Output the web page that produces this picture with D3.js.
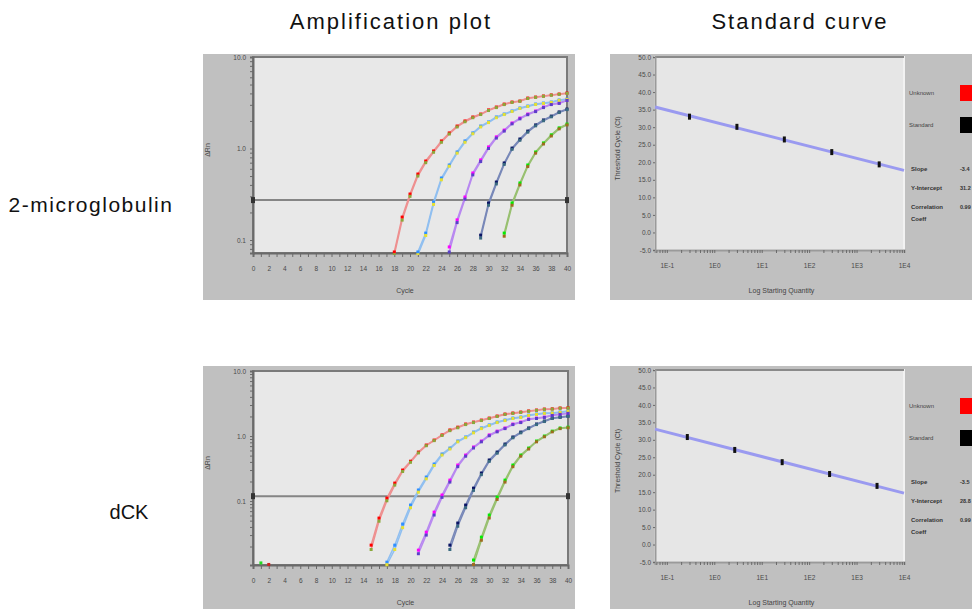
<!DOCTYPE html>
<html>
<head>
<meta charset="utf-8">
<script src="https://cdn.jsdelivr.net/npm/d3@7"></script>
<style>
body { margin: 0; background: #fff; }
svg { display: block; font-family: "Liberation Sans", Arial, sans-serif; }
</style>
</head>
<body>
<svg id="chart" width="972" height="609"></svg>
<script>
// ---- data ----
const rowLabels = ['2-microglobulin', 'dCK'];
const columnTitles = ['Amplification plot', 'Standard curve'];

// amplification plots: first cycle of each dilution, then ΔRn per cycle
const ampXTicks = [0, 2, 4, 6, 8, 10, 12, 14, 16, 18, 20, 22, 24, 26, 28, 30, 32, 34, 36, 38, 40];
const ampXTickLabels = ampXTicks.map(String);

const ampTopYTicks = [10, 1, 0.1];
const ampTopYTickLabels = ['10.0', '1.0', '0.1'];
const ampTopThreshold = 0.273;
const ampTopStart = [18, 21, 25, 29, 32];
const ampTopRepA = [
    [0.074, 0.178, 0.318, 0.526, 0.73, 0.94, 1.21, 1.48, 1.76, 2.0, 2.21, 2.38, 2.64, 2.84, 3.06, 3.22, 3.30, 3.56, 3.65, 3.75, 3.85, 3.94, 4.04],
    [0.074, 0.119, 0.26, 0.476, 0.66, 0.916, 1.21, 1.48, 1.76, 1.95, 2.21, 2.38, 2.57, 2.77, 2.91, 3.06, 3.14, 3.22, 3.39, 3.47],
    [0.084, 0.166, 0.295, 0.54, 0.75, 1.04, 1.34, 1.59, 1.90, 2.15, 2.38, 2.57, 2.84, 3.06, 3.14, 3.39],
    [0.113, 0.254, 0.43, 0.695, 1.01, 1.27, 1.55, 1.81, 2.05, 2.26, 2.51, 2.70],
    [0.119, 0.254, 0.42, 0.66, 0.916, 1.15, 1.41, 1.68, 1.85]
];
const ampTopRepB = [
    [0.069, 0.165, 0.300, 0.500, 0.70, 0.91, 1.17, 1.44, 1.72, 1.96, 2.17, 2.35, 2.60, 2.80, 3.02, 3.19, 3.28, 3.52, 3.62, 3.72, 3.82, 3.91, 4.00],
    [0.069, 0.112, 0.245, 0.455, 0.64, 0.89, 1.17, 1.45, 1.72, 1.92, 2.17, 2.35, 2.54, 2.74, 2.88, 3.03, 3.11, 3.19, 3.36, 3.44],
    [0.074, 0.155, 0.280, 0.515, 0.72, 1.00, 1.30, 1.55, 1.86, 2.11, 2.34, 2.53, 2.80, 3.02, 3.11, 3.35],
    [0.105, 0.240, 0.41, 0.670, 0.98, 1.23, 1.51, 1.77, 2.01, 2.22, 2.47, 2.66],
    [0.110, 0.240, 0.40, 0.635, 0.89, 1.12, 1.37, 1.64, 1.81]
];

const ampBottomYTicks = [10, 1, 0.1];
const ampBottomYTickLabels = ['10.0', '1.0', '0.1'];
const ampBottomThreshold = 0.119;
const ampBottomStart = [15, 17, 21, 25, 28];
const ampBottomRepA = [
    [0.021, 0.0547, 0.111, 0.189, 0.30, 0.41, 0.567, 0.727, 0.867, 1.04, 1.24, 1.37, 1.53, 1.64, 1.76, 1.89, 2.03, 2.18, 2.26, 2.34, 2.43, 2.51, 2.60, 2.62, 2.70, 2.72],
    [0.0115, 0.021, 0.0443, 0.0868, 0.148, 0.234, 0.371, 0.529, 0.653, 0.838, 0.966, 1.15, 1.33, 1.48, 1.64, 1.76, 1.89, 1.96, 2.10, 2.18, 2.26, 2.27, 2.34, 2.43],
    [0.0176, 0.0333, 0.0677, 0.124, 0.21, 0.358, 0.51, 0.678, 0.838, 1.04, 1.19, 1.33, 1.53, 1.64, 1.83, 1.89, 1.96, 2.10, 2.18, 2.26],
    [0.021, 0.0459, 0.0868, 0.158, 0.27, 0.428, 0.567, 0.753, 0.966, 1.15, 1.33, 1.53, 1.70, 1.89, 1.96, 2.03],
    [0.0124, 0.0279, 0.061, 0.115, 0.21, 0.358, 0.51, 0.653, 0.838, 1.0, 1.19, 1.33, 1.37]
];
const ampBottomRepB = [
    [0.018, 0.049, 0.101, 0.176, 0.285, 0.395, 0.55, 0.71, 0.85, 1.02, 1.21, 1.34, 1.50, 1.61, 1.73, 1.86, 2.00, 2.15, 2.23, 2.31, 2.40, 2.48, 2.57, 2.59, 2.67, 2.69],
    [0.0105, 0.018, 0.039, 0.079, 0.137, 0.220, 0.352, 0.51, 0.632, 0.815, 0.945, 1.12, 1.30, 1.45, 1.61, 1.73, 1.86, 1.93, 2.07, 2.15, 2.23, 2.25, 2.31, 2.40],
    [0.0155, 0.030, 0.061, 0.114, 0.196, 0.338, 0.49, 0.655, 0.815, 1.01, 1.16, 1.30, 1.50, 1.61, 1.80, 1.86, 1.93, 2.07, 2.15, 2.23],
    [0.018, 0.041, 0.079, 0.146, 0.255, 0.408, 0.545, 0.73, 0.94, 1.12, 1.30, 1.50, 1.67, 1.86, 1.93, 2.00],
    [0.0106, 0.025, 0.055, 0.106, 0.196, 0.338, 0.49, 0.632, 0.815, 0.975, 1.16, 1.30, 1.34]
];
// stray baseline points near cycle 1-2 in the dCK plot
const ampBottomEarlyCycles = [1, 2];
const ampBottomEarlyValues = [0.0112, 0.0106];
const ampBottomEarlyColors = ['#22dd22', '#cc2222'];

const repAColors = ['#ff0000', '#2f8fff', '#ff00ff', '#0a1464', '#00ee00'];
const repBColors = ['#8aa83a', '#e6e030', '#5a40c8', '#3a6a80', '#a06a20'];
const lineColors = ['#ee9090', '#90bff0', '#b888f0', '#7888b8', '#98c070'];

// standard curves
const stdYTicks = [50, 45, 40, 35, 30, 25, 20, 15, 10, 5, 0, -5];
const stdYTickLabels = stdYTicks.map(d => d.toFixed(1));
const stdXTicks = [0.1, 1, 10, 100, 1000, 10000];
const stdXTickLabels = ['1E-1', '1E0', '1E1', '1E2', '1E3', '1E4'];
const stdTopQty = [0.3, 3, 30, 300, 3000];
const stdTopCt = [33.0, 30.1, 26.5, 22.9, 19.4];
const stdBottomQty = [0.27, 2.7, 27, 270, 2700];
const stdBottomCt = [30.8, 27.1, 23.6, 20.2, 16.8];
const legendLabels = ['Unknown', 'Standard'];
const legendColors = ['#ff0000', '#000000'];
const statLabels = ['Slope', 'Y-Intercept', 'Correlation', 'Coeff'];
const statTopValues = ['-3.4', '31.2', '0.99', ''];
const statBottomValues = ['-3.5', '28.8', '0.99', ''];

// ---- drawing ----
const svg = d3.select('#chart');

svg.selectAll('.col-title')
    .data(columnTitles)
    .enter().append('text')
    .attr('class', 'col-title')
    .attr('x', (d, i) => [391, 800][i])
    .attr('y', 29)
    .attr('text-anchor', 'middle')
    .style('font-size', '22px')
    .style('letter-spacing', '2px')
    .style('fill', '#111')
    .text(d => d);

svg.selectAll('.row-title')
    .data(rowLabels)
    .enter().append('text')
    .attr('class', 'row-title')
    .attr('x', (d, i) => [91, 129][i])
    .attr('y', (d, i) => [212, 519][i])
    .attr('text-anchor', 'middle')
    .style('font-size', (d, i) => ['21px', '20px'][i])
    .style('letter-spacing', (d, i) => ['1.5px', '0px'][i])
    .style('fill', '#111')
    .text(d => d);

function styleAxis(g) {
    g.select('.domain').attr('stroke', '#6a6a6a').attr('stroke-width', 2);
    g.selectAll('.tick line').attr('stroke', '#6a6a6a');
    g.selectAll('.tick text').style('font-size', '6.5px').style('fill', '#4a4a4a');
}

function drawAmp(id, box, o) {
    let x = d3.scaleLinear().domain([0, 40]).range([box.left, box.right]);
    let y = d3.scaleLog().domain(o.yDomain).range([box.bottom, box.top]);

    let g = svg.append('g');
    g.append('rect')
        .attr('x', box.px).attr('y', box.py)
        .attr('width', box.pw).attr('height', box.ph)
        .attr('fill', '#c0c0c0');
    g.append('rect')
        .attr('x', box.left).attr('y', box.top)
        .attr('width', box.right - box.left).attr('height', box.bottom - box.top)
        .attr('fill', '#e8e8e8')
        .attr('stroke', '#7a7a7a')
        .attr('stroke-width', 2);

    svg.append('clipPath').attr('id', 'clip-' + id)
        .append('rect')
        .attr('x', box.left - 2).attr('y', box.top)
        .attr('width', box.right - box.left + 4).attr('height', box.bottom - box.top + 2);

    let xAxis = d3.axisBottom(x)
        .tickValues(d3.range(0, 41))
        .tickSize(4)
        .tickPadding(9)
        .tickFormat(d => {
            let i = ampXTicks.indexOf(d);
            return i >= 0 ? ampXTickLabels[i] : '';
        });
    g.append('g')
        .attr('transform', `translate(0, ${box.bottom})`)
        .call(xAxis)
        .call(styleAxis);

    let yAxis = d3.axisLeft(y)
        .tickValues(y.ticks())
        .tickSize(3)
        .tickPadding(4)
        .tickFormat(d => {
            let i = o.yTicks.findIndex(t => Math.abs(t - d) < 1e-9);
            return i >= 0 ? o.yTickLabels[i] : '';
        });
    g.append('g')
        .attr('transform', `translate(${box.left}, 0)`)
        .call(yAxis)
        .call(styleAxis);

    g.append('text')
        .attr('x', (box.left + box.right) / 2 - 5)
        .attr('y', box.bottom + 40)
        .attr('text-anchor', 'middle')
        .style('font-size', '7px').style('fill', '#444')
        .text('Cycle');
    g.append('text')
        .attr('transform', `translate(${box.px + 7}, ${(box.top + box.bottom) / 2 - 5}) rotate(-90)`)
        .attr('text-anchor', 'middle')
        .style('font-size', '7px').style('fill', '#444')
        .text('ΔRn');

    // threshold
    g.append('line')
        .attr('x1', box.left).attr('x2', box.right)
        .attr('y1', y(o.threshold)).attr('y2', y(o.threshold))
        .attr('stroke', '#858585').attr('stroke-width', 2);
    g.selectAll('.handle')
        .data([box.left, box.right])
        .enter().append('rect')
        .attr('x', d => d - 2).attr('y', y(o.threshold) - 3)
        .attr('width', 4).attr('height', 6)
        .attr('fill', '#333');

    let plot = g.append('g').attr('clip-path', `url(#clip-${id})`);
    let line = d3.line().x(d => x(d[0])).y(d => y(d[1]));
    let reps = [o.repA, o.repB];
    let repColors = [repAColors, repBColors];

    reps.forEach(rep => {
        rep.forEach((vals, i) => {
            let pts = vals.map((v, k) => [o.start[i] + k, v]);
            plot.append('path')
                .datum(pts)
                .attr('d', line)
                .attr('fill', 'none')
                .attr('stroke', lineColors[i])
                .attr('stroke-width', 1.5);
        });
    });
    reps.forEach((rep, r) => {
        rep.forEach((vals, i) => {
            let pts = vals.map((v, k) => [o.start[i] + k, v]);
            plot.selectAll(null)
                .data(pts)
                .enter().append('rect')
                .attr('x', d => x(d[0]) - 1.5)
                .attr('y', d => y(d[1]) - 1.5)
                .attr('width', 3).attr('height', 3)
                .attr('fill', repColors[r][i]);
        });
    });

    if (o.early) {
        plot.selectAll(null)
            .data(o.early.cycles)
            .enter().append('rect')
            .attr('x', d => x(d) - 1.5)
            .attr('y', (d, i) => y(o.early.values[i]) - 1.5)
            .attr('width', 3).attr('height', 3)
            .attr('fill', (d, i) => o.early.colors[i]);
    }
}

function drawStd(box, o) {
    let x = d3.scaleLog().domain([Math.pow(10, -1.25), 10000]).range([box.left, box.right]);
    let y = d3.scaleLinear().domain([-5, 50]).range([box.bottom, box.top]);

    let g = svg.append('g');
    g.append('rect')
        .attr('x', box.px).attr('y', box.py)
        .attr('width', box.pw).attr('height', box.ph)
        .attr('fill', '#c0c0c0');
    g.append('rect')
        .attr('x', box.left).attr('y', box.top)
        .attr('width', box.right - box.left).attr('height', box.bottom - box.top)
        .attr('fill', '#e6e6e6')
        .attr('stroke', '#f2f2f2')
        .attr('stroke-width', 2);
    g.append('line')
        .attr('x1', box.left).attr('x2', box.right)
        .attr('y1', box.top).attr('y2', box.top)
        .attr('stroke', '#8a8a8a').attr('stroke-width', 2);

    let xAxis = d3.axisBottom(x)
        .tickValues(x.ticks())
        .tickSize(3)
        .tickPadding(10)
        .tickFormat(d => {
            let i = stdXTicks.findIndex(t => Math.abs(t - d) < 1e-9);
            return i >= 0 ? stdXTickLabels[i] : '';
        });
    g.append('g')
        .attr('transform', `translate(0, ${box.bottom})`)
        .call(xAxis)
        .call(styleAxis);

    let yAxis = d3.axisLeft(y)
        .tickValues(stdYTicks)
        .tickSize(2)
        .tickPadding(2)
        .tickFormat((d, i) => stdYTickLabels[i]);
    g.append('g')
        .attr('transform', `translate(${box.left}, 0)`)
        .call(yAxis)
        .call(styleAxis);
    g.selectAll('.domain').attr('stroke', '#9a9a9a');

    g.append('text')
        .attr('x', (box.left + box.right) / 2 + 2)
        .attr('y', box.bottom + 43)
        .attr('text-anchor', 'middle')
        .style('font-size', '7px').style('fill', '#444')
        .text('Log Starting Quantity');
    g.append('text')
        .attr('transform', `translate(${box.px + 10}, ${(box.top + box.bottom) / 2 - 5}) rotate(-90)`)
        .attr('text-anchor', 'middle')
        .style('font-size', '7px').style('fill', '#444')
        .text('Threshold Cycle (Ct)');

    // regression line through the standards
    let lx = o.qty.map(q => Math.log10(q));
    let mx = d3.mean(lx), my = d3.mean(o.ct);
    let slope = d3.sum(lx, (v, i) => (v - mx) * (o.ct[i] - my)) / d3.sum(lx, v => (v - mx) * (v - mx));
    let ends = x.domain().map(q => [q, my + slope * (Math.log10(q) - mx)]);
    g.append('line')
        .attr('x1', x(ends[0][0])).attr('y1', y(ends[0][1]))
        .attr('x2', x(ends[1][0])).attr('y2', y(ends[1][1]))
        .attr('stroke', '#9a9af0')
        .attr('stroke-width', 3);

    g.selectAll(null)
        .data(o.qty)
        .enter().append('rect')
        .attr('x', d => x(d) - 1.5)
        .attr('y', (d, i) => y(o.ct[i]) - 3)
        .attr('width', 3).attr('height', 6)
        .attr('fill', '#111');

    // legend and statistics
    let legend = g.selectAll('.legend')
        .data(legendLabels)
        .enter().append('g')
        .attr('transform', (d, i) => `translate(0, ${box.top + [36, 68][i]})`);
    legend.append('text')
        .attr('x', 909).attr('y', 2)
        .style('font-size', '6px').style('fill', '#444')
        .text(d => d);
    legend.append('rect')
        .attr('x', 960).attr('y', -8)
        .attr('width', 14).attr('height', 16)
        .attr('fill', (d, i) => legendColors[i]);

    let stats = g.selectAll('.stat')
        .data(statLabels)
        .enter().append('g')
        .attr('transform', (d, i) => `translate(0, ${box.top + [114, 133, 152, 164][i]})`);
    stats.append('text')
        .attr('x', 911)
        .style('font-size', '6px').style('fill', '#333').style('font-weight', 'bold')
        .text(d => d);
    stats.append('text')
        .attr('x', 960)
        .style('font-size', '5.5px').style('fill', '#333').style('font-weight', 'bold')
        .text((d, i) => o.stats[i]);
}

drawAmp('top', { px: 203, py: 54, pw: 372, ph: 246, left: 253, right: 567, top: 57, bottom: 253 }, {
    yDomain: [0.0721, 10], yTicks: ampTopYTicks, yTickLabels: ampTopYTickLabels,
    threshold: ampTopThreshold, start: ampTopStart, repA: ampTopRepA, repB: ampTopRepB
});
drawAmp('bottom', { px: 203, py: 366, pw: 372, ph: 243, left: 253, right: 568, top: 371, bottom: 565 }, {
    yDomain: [0.0104, 10], yTicks: ampBottomYTicks, yTickLabels: ampBottomYTickLabels,
    threshold: ampBottomThreshold, start: ampBottomStart, repA: ampBottomRepA, repB: ampBottomRepB,
    early: { cycles: ampBottomEarlyCycles, values: ampBottomEarlyValues, colors: ampBottomEarlyColors }
});

drawStd({ px: 610, py: 54, pw: 362, ph: 246, left: 655, right: 904, top: 57, bottom: 250 }, {
    qty: stdTopQty, ct: stdTopCt, stats: statTopValues
});
drawStd({ px: 610, py: 366, pw: 362, ph: 243, left: 655, right: 904, top: 370, bottom: 562 }, {
    qty: stdBottomQty, ct: stdBottomCt, stats: statBottomValues
});
</script>
</body>
</html>
